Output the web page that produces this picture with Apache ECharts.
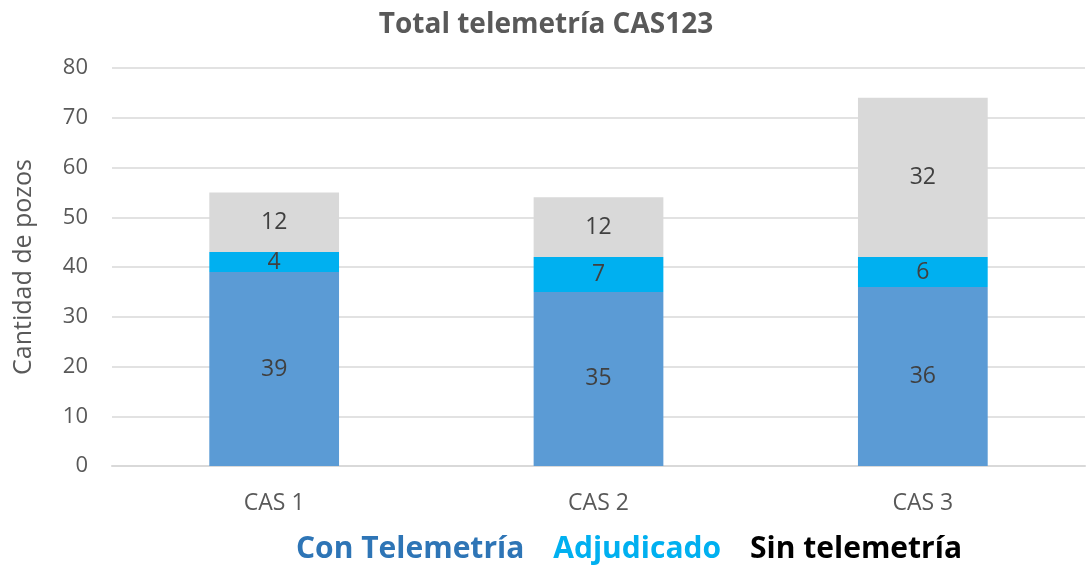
<!DOCTYPE html>
<html>
<head>
<meta charset="utf-8">
<script src="https://cdn.jsdelivr.net/npm/echarts@6/dist/echarts.min.js"></script>
<style>
  html, body { margin: 0; padding: 0; background: #fff; }
  #chart { width: 1089px; height: 570px; }
</style>
</head>
<body>
<div id="chart"></div>
<script>
// datos del grafico
var categorias = ['CAS 1', 'CAS 2', 'CAS 3'];
var conTelemetria = [39, 35, 36];
var adjudicado = [4, 7, 6];
var sinTelemetria = [12, 12, 32];
var yTicks = [0, 80, 10]; // min, max, intervalo

var fuente = '"Open Sans", "Noto Sans", sans-serif';

var dom = document.getElementById('chart');
var myChart = echarts.init(dom);
var option = {
	title: {
		text: 'Total telemetría CAS123',
		left: 541,
		textAlign: 'center',
		top: 6,
		textStyle: { fontFamily: fuente, fontSize: 28, fontWeight: 'bold', color: '#595959' }
	},
	legend: {
		bottom: 1,
		left: 286,
		icon: 'none',
		itemWidth: 0,
		itemGap: 24,
		selectedMode: false,
		textStyle: { fontFamily: fuente, fontSize: 30, fontWeight: 'bold' },
		data: [
			{ name: 'Con Telemetría', textStyle: { color: '#2E75B6' } },
			{ name: 'Adjudicado', textStyle: { color: '#00B0F0' } },
			{ name: 'Sin telemetría', textStyle: { color: '#000000' } }
		]
	},
	grid: {
		left: 112,
		right: 4,
		top: 68,
		bottom: 104,
		outerBoundsMode: 'none'
	},
	xAxis: {
		type: 'category',
		data: categorias,
		axisLine: { lineStyle: { color: '#D9D9D9', width: 2 } },
		axisTick: { show: false },
		axisLabel: { fontFamily: fuente, fontSize: 23, color: '#595959', margin: 26 }
	},
	yAxis: {
		type: 'value',
		min: yTicks[0],
		max: yTicks[1],
		interval: yTicks[2],
		name: 'Cantidad de pozos',
		nameLocation: 'middle',
		nameGap: 76,
		nameTextStyle: { fontFamily: fuente, fontSize: 25, color: '#595959' },
		axisLine: { show: false },
		axisTick: { show: false },
		axisLabel: { fontFamily: fuente, fontSize: 22, color: '#595959', margin: 24 },
		splitLine: { lineStyle: { color: '#D9D9D9', width: 1.5 } }
	},
	series: [{
		name: 'Con Telemetría',
		type: 'bar',
		stack: 'total',
		barWidth: '40%',
		itemStyle: { color: '#5B9BD5' },
		label: { show: true, position: 'inside', fontFamily: fuente, fontSize: 23, color: '#404040' },
		data: conTelemetria
	}, {
		name: 'Adjudicado',
		type: 'bar',
		stack: 'total',
		itemStyle: { color: '#00B0F0' },
		label: { show: true, position: 'inside', fontFamily: fuente, fontSize: 23, color: '#404040' },
		data: adjudicado
	}, {
		name: 'Sin telemetría',
		type: 'bar',
		stack: 'total',
		itemStyle: { color: '#D9D9D9' },
		label: { show: true, position: 'inside', fontFamily: fuente, fontSize: 23, color: '#404040' },
		data: sinTelemetria
	}]
};
if (option && typeof option === 'object') {
	myChart.setOption(option, true);
}
</script>
</body>
</html>
